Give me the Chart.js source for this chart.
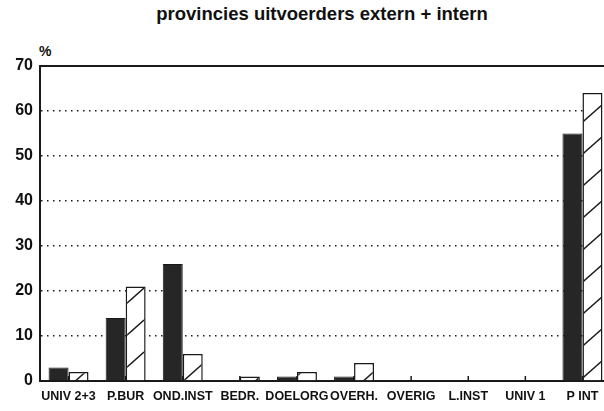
<!DOCTYPE html>
<html>
<head>
<meta charset="utf-8">
<script src="https://cdn.jsdelivr.net/npm/chart.js@4"></script>
<style>
    html, body { margin: 0; padding: 0; background: #fff; overflow: hidden; }
    body { width: 604px; height: 411px; position: relative; font-family: "Liberation Sans", Arial, sans-serif; }
    #title { position: absolute; left: 0; width: 644px; top: 3px; text-align: center; font-weight: bold; font-size: 18.5px; color: #111; }
    #unit { position: absolute; left: 39px; top: 43px; font-weight: bold; font-size: 14px; color: #111; }
    #wrap { position: absolute; left: 0; top: 0; width: 611px; height: 411px; }
</style>
</head>
<body>
<div id="title">provincies uitvoerders extern + intern</div>
<div id="unit">%</div>
<div id="wrap"><canvas id="chart"></canvas></div>
<script>
    // Data
    const categories = ['UNIV 2+3', 'P.BUR', 'OND.INST', 'BEDR.', 'DOELORG', 'OVERH.', 'OVERIG', 'L.INST', 'UNIV 1', 'P INT'];
    const externValues = [3, 14, 26, 0, 1, 1, 0, 0, 0, 55];
    const internValues = [2, 21, 6, 1, 2, 4, 0, 0, 0, 64];
    const yTicks = [0, 10, 20, 30, 40, 50, 60, 70];

    const ink = '#1a1a1a';

    // Hatch pattern for the white bars
    function makeHatch() {
        const c = document.createElement('canvas');
        c.width = 36;
        c.height = 32;
        const g = c.getContext('2d');
        g.fillStyle = '#fff';
        g.fillRect(0, 0, 36, 32);
        g.strokeStyle = ink;
        g.lineWidth = 1.4;
        [-32, 0, 32].forEach(off => {
            g.beginPath();
            g.moveTo(0, 32 + off);
            g.lineTo(36, 0 + off);
            g.stroke();
        });
        return g.createPattern(c, 'repeat');
    }

    // Small upward ticks at category centres and the solid top line
    const axisExtras = {
        id: 'axisExtras',
        beforeDatasetsDraw(chart) {
            const { ctx, chartArea, scales } = chart;
            ctx.save();
            ctx.strokeStyle = ink;
            ctx.lineWidth = 1.5;
            categories.forEach((c, i) => {
                const x = scales.x.getPixelForTick(i);
                ctx.beginPath();
                ctx.moveTo(x, chartArea.bottom);
                ctx.lineTo(x, chartArea.bottom - 5);
                ctx.stroke();
            });
            ctx.restore();
        },
        afterDraw(chart) {
            const { ctx, chartArea, scales } = chart;
            const y = scales.y.getPixelForValue(yTicks[yTicks.length - 1]);
            ctx.save();
            ctx.strokeStyle = ink;
            ctx.lineWidth = 2;
            ctx.beginPath();
            ctx.moveTo(chartArea.left - 1, y);
            ctx.lineTo(chartArea.right + 10, y);
            ctx.stroke();
            ctx.restore();
        }
    };

    const ctx = document.getElementById('chart').getContext('2d');
    const chart = new Chart(ctx, {
        type: 'bar',
        data: {
            labels: categories,
            datasets: [
                {
                    label: 'extern',
                    data: externValues,
                    backgroundColor: '#262626',
                    borderColor: ink,
                    borderWidth: 1,
                    borderSkipped: 'bottom'
                },
                {
                    label: 'intern',
                    data: internValues,
                    backgroundColor: makeHatch(),
                    borderColor: ink,
                    borderWidth: 1.5,
                    borderSkipped: 'bottom'
                }
            ]
        },
        options: {
            responsive: true,
            maintainAspectRatio: false,
            animation: false,
            devicePixelRatio: 1,
            layout: { padding: { top: 66, left: 0, right: 0, bottom: 0 } },
            barPercentage: 1,
            categoryPercentage: 0.7,
            plugins: {
                legend: { display: false },
                tooltip: { enabled: false }
            },
            scales: {
                x: {
                    grid: { display: false },
                    border: { display: true, color: ink, width: 2 },
                    ticks: {
                        autoSkip: false,
                        maxRotation: 0,
                        minRotation: 0,
                        padding: 0,
                        color: '#111',
                        font: { family: 'Liberation Sans', weight: 'bold', size: 12.5 }
                    },
                    afterFit: scale => { scale.height = 30; }
                },
                y: {
                    min: 0,
                    max: 70,
                    afterBuildTicks: scale => { scale.ticks = yTicks.map(v => ({ value: v })); },
                    grid: {
                        drawTicks: false,
                        color: c => (c.tick && (c.tick.value === 0 || c.tick.value === 70)) ? 'rgba(0,0,0,0)' : ink,
                        lineWidth: 1.5
                    },
                    border: { display: true, color: ink, width: 2, dash: [1.5, 4.5] },
                    ticks: {
                        padding: 7,
                        color: '#111',
                        font: { family: 'Liberation Sans', weight: 'bold', size: 16 }
                    },
                    afterFit: scale => { scale.width = 40; }
                }
            }
        },
        plugins: [axisExtras]
    });
</script>
</body>
</html>
